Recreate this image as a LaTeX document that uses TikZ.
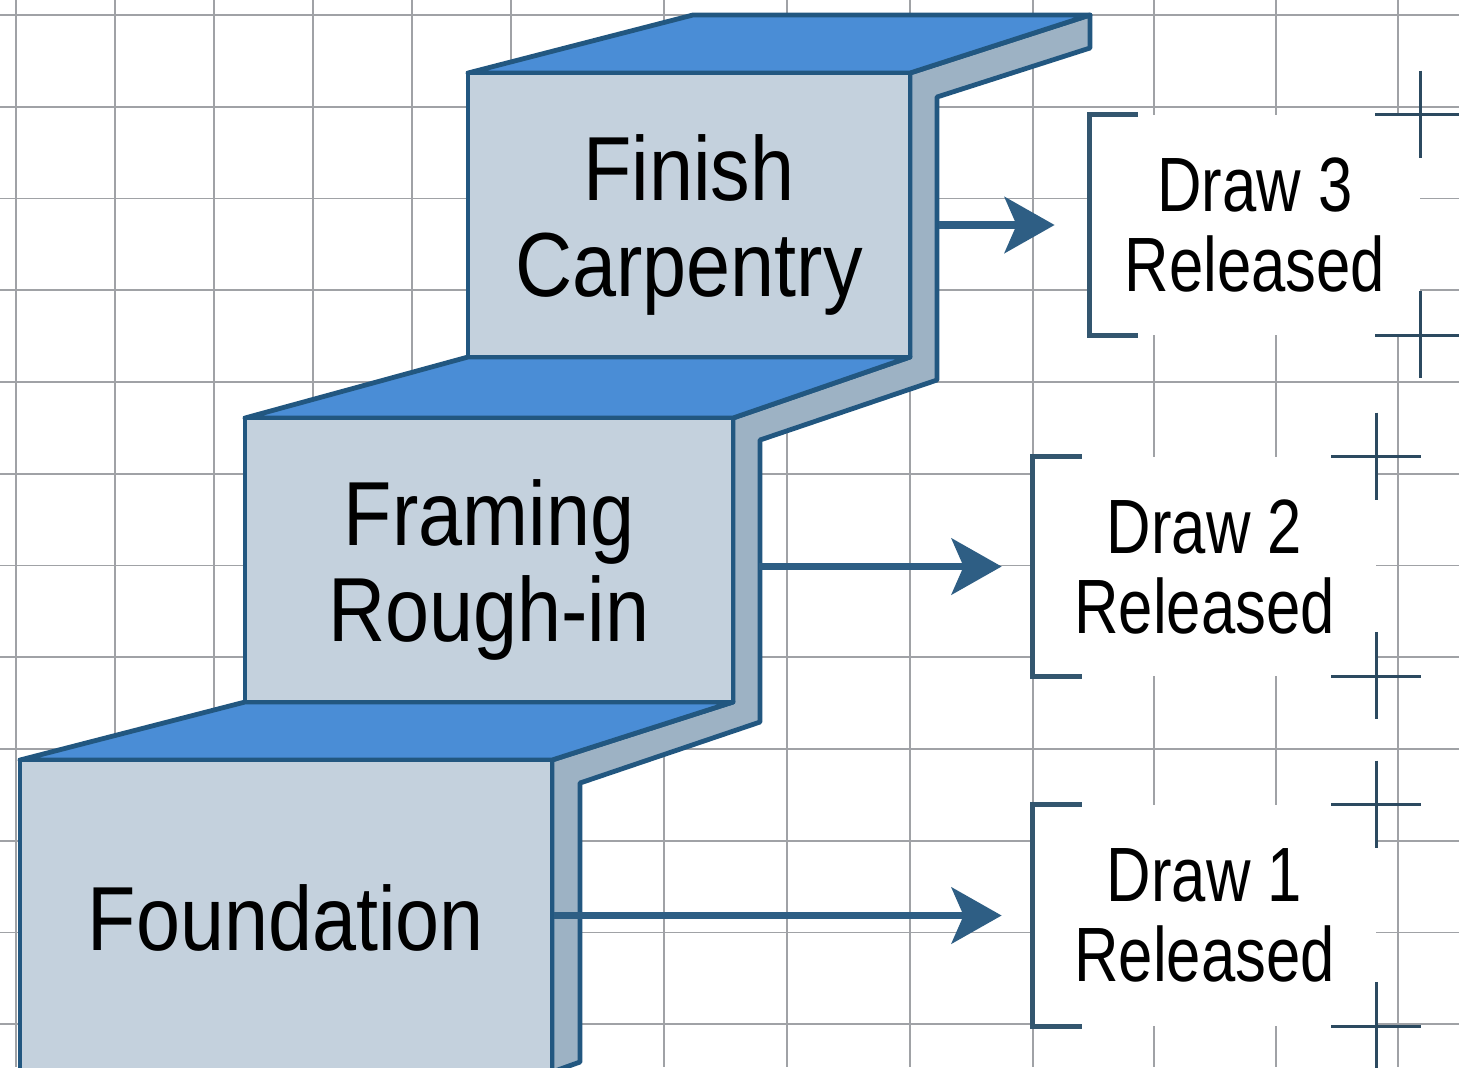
\documentclass[tikz,border=0pt]{standalone}
\usepackage{fontspec}
\usetikzlibrary{arrows.meta}
\newfontfamily\stepfont[FakeStretch=0.87]{Liberation Sans}
\newfontfamily\drawfont[FakeStretch=0.80]{Liberation Sans}
\definecolor{gridgray}{HTML}{A0A2A6}
\definecolor{frontc}{HTML}{C4D1DD}
\definecolor{topc}{HTML}{4A8DD6}
\definecolor{sidec}{HTML}{9DB2C4}
\definecolor{edgec}{HTML}{225780}
\definecolor{arrowc}{HTML}{2E5E84}
\definecolor{bracketc}{HTML}{33566F}
\definecolor{crossc}{HTML}{2C4A60}
\tikzset{
  gridline/.style={draw=gridgray, line width=0.85pt},
  frontface/.style={rectangle, fill=frontc, draw=edgec, line width=2.4pt, inner sep=0pt},
  steplabel/.style={inner sep=0pt, align=center, text=black,
    font=\stepfont\fontsize{45.5}{48}\selectfont},
  topface/.style={fill=topc, draw=edgec, line width=2.4pt, line join=round},
  sideface/.style={fill=sidec, draw=edgec, line width=2.4pt, line join=round},
  flow/.style={draw=arrowc, line width=3.8pt, -{Stealth[length=25pt,width=28pt,inset=6pt]}},
  labelbox/.style={rectangle, fill=white, inner sep=0pt, align=center, text=black,
    font=\drawfont\fontsize{38.5}{40}\selectfont},
  bracketline/.style={draw=bracketc, line width=2.6pt},
  crossline/.style={draw=crossc, line width=1.6pt},
}
\begin{document}
\begin{tikzpicture}[x=0.5pt, y=-0.5pt]
\path[use as bounding box, fill=white] (0,0) rectangle (1459,1067);
% grid
\foreach \gy in {15,106.75,198.5,290.25,382,473.75,565.5,657.25,749,840.75,932.5,1024.25}
  \draw[gridline] (0,\gy) -- (1459,\gy);
\foreach \gx in {16,115,214,313,412,511,664,787,910,1033,1154,1276,1398}
  \draw[gridline] (\gx,0) -- (\gx,1067);

% label areas
\node[labelbox, minimum width=165pt, minimum height=110pt] (d3) at (1255,225) {Draw 3\\Released};
\node[labelbox, minimum width=171.5pt, minimum height=109.5pt] (d2) at (1204.5,566.5) {Draw 2\\Released};
\node[labelbox, minimum width=171.5pt, minimum height=110.5pt] (d1) at (1204.5,915.5) {Draw 1\\Released};

% brackets
\foreach \d/\arm in {d3/24pt, d2/24.5pt, d1/24.5pt}
  \draw[bracketline] ([xshift=\arm]\d.north west) -- (\d.north west) -- (\d.south west) -- ([xshift=\arm]\d.south west);
% crosses
\foreach \d in {d3,d2,d1}{
  \foreach \c in {north east, south east}{
    \draw[crossline] ([xshift=-22.5pt]\d.\c) -- ([xshift=22.5pt]\d.\c);
    \draw[crossline] ([yshift=22pt]\d.\c) -- ([yshift=-21.5pt]\d.\c);
  }
}

% staircase side band
\path[sideface] (910,73) -- (1090,15) -- (1090,48) -- (937,97) -- (937,380) -- (760,440)
  -- (760,722) -- (580,783) -- (580,1062) -- (552,1072) -- (552,760) -- (733,702)
  -- (733,418) -- (910,357) -- cycle;
% top faces
\path[topface] (468,73) -- (693,15) -- (1090,15) -- (910,73) -- cycle;
\path[topface] (245,418) -- (468,357) -- (910,357) -- (733,418) -- cycle;
\path[topface] (20,760) -- (245,702) -- (733,702) -- (552,760) -- cycle;

% front faces
\node[frontface, minimum width=221pt, minimum height=142pt] (f3) at (689,215) {};
\node[frontface, minimum width=244pt, minimum height=142pt] (f2) at (489,560) {};
\node[frontface, minimum width=266pt, minimum height=157.5pt] (f1) at (286,917.5) {};
\node[steplabel] (t3) at ([yshift=-5pt]f3.center) {Finish\\Carpentry};
\node[steplabel] (t2) at ([yshift=-5pt]f2.center) {Framing\\Rough-in};
\node[steplabel] (t1) at ([yshift=0pt]f1.center) {Foundation};

% arrows
\draw[flow] ([xshift=13.5pt]f3.east |- d3.west) -- ([xshift=-17.5pt]d3.west);
\draw[flow] ([xshift=12pt]f2.east |- d2.west) -- ([xshift=-15.5pt]d2.west);
\draw[flow] (f1.east |- d1.west) -- ([xshift=-15.5pt]d1.west);
\end{tikzpicture}
\end{document}
